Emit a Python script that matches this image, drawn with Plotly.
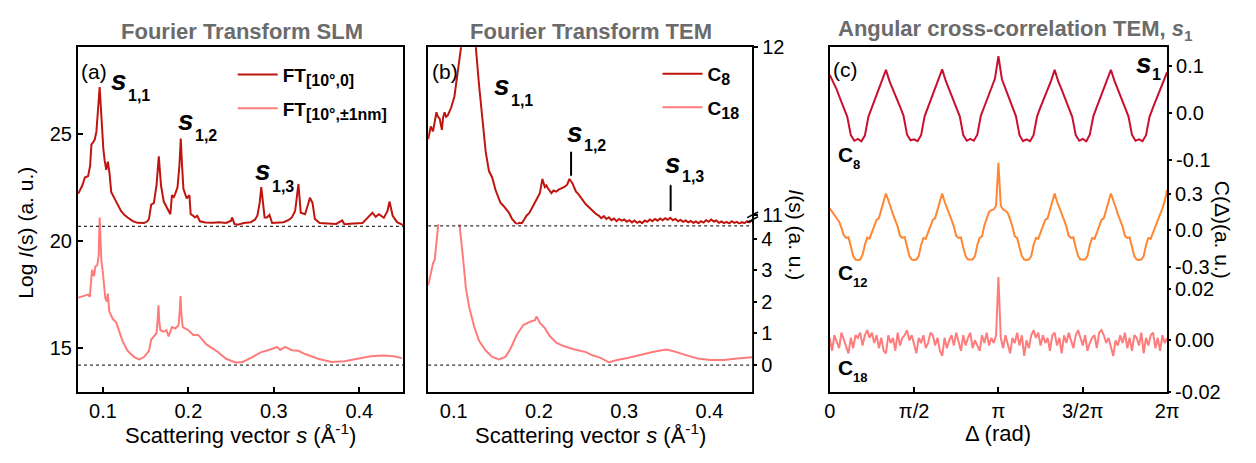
import plotly.graph_objects as go

W, H = 1256, 463

# ---------------- data: panel (a) Fourier Transform SLM ----------------
s_a_top = [0.0712, 0.0760, 0.0789, 0.0827, 0.0850, 0.0866, 0.0885, 0.0904, 0.0924, 0.0945,
           0.0962, 0.0975, 0.0988, 0.1005, 0.1020, 0.1039, 0.1058, 0.1077, 0.1097, 0.1125,
           0.1155, 0.1212, 0.1250, 0.1289, 0.1350, 0.1404, 0.1481, 0.1520, 0.1539, 0.1565,
           0.1596, 0.1627, 0.1654, 0.1668, 0.1680, 0.1712, 0.1750, 0.1789, 0.1808, 0.1830,
           0.1847, 0.1873, 0.1895, 0.1911, 0.1925, 0.1942, 0.1980, 0.2012, 0.2027, 0.2050,
           0.2077, 0.2104, 0.2135, 0.2200, 0.2288, 0.2360, 0.2442, 0.2500, 0.2511, 0.2539,
           0.2577, 0.2650, 0.2730, 0.2780, 0.2807, 0.2835, 0.2853, 0.2870, 0.2892, 0.2920,
           0.2949, 0.2980, 0.3050, 0.3115, 0.3180, 0.3211, 0.3249, 0.3288, 0.3315, 0.3365,
           0.3400, 0.3422, 0.3453, 0.3480, 0.3537, 0.3650, 0.3730, 0.3800, 0.3826, 0.3930,
           0.4038, 0.4096, 0.4153, 0.4192, 0.4230, 0.4287, 0.4330, 0.4353, 0.4391, 0.4442,
           0.4491, 0.4514]
logI_a_top = [22.21, 22.60, 22.96, 23.03, 23.50, 24.51, 24.60, 24.73, 25.10, 26.20,
              27.18, 26.30, 25.10, 24.30, 23.77, 23.32, 23.70, 23.18, 22.29, 22.05,
              21.84, 21.40, 21.22, 21.10, 20.93, 20.85, 20.84, 20.92, 21.03, 21.70,
              21.77, 22.59, 23.95, 23.20, 22.59, 21.84, 21.55, 21.25, 22.14, 22.05,
              22.21, 22.51, 23.50, 24.78, 23.60, 22.44, 21.99, 22.14, 21.25, 21.20,
              21.10, 21.18, 20.92, 20.86, 20.85, 20.88, 20.84, 20.95, 21.10, 20.80,
              20.76, 20.84, 20.88, 21.00, 21.18, 21.80, 22.51, 21.80, 21.10, 21.10,
              21.22, 20.84, 20.86, 20.88, 21.00, 21.10, 21.40, 22.66, 21.32, 21.25,
              21.70, 22.02, 21.77, 21.03, 20.84, 20.80, 20.80, 20.96, 20.78, 20.82,
              20.84, 21.08, 21.32, 21.13, 21.25, 21.08, 21.40, 21.84, 21.18, 20.88,
              20.76, 20.74]

s_a_low = [0.0712, 0.0780, 0.0827, 0.0847, 0.0873, 0.0896, 0.0912, 0.0935, 0.0950, 0.0962,
           0.0970, 0.0982, 0.1000, 0.1028, 0.1047, 0.1058, 0.1074, 0.1116, 0.1155, 0.1190,
           0.1231, 0.1289, 0.1366, 0.1423, 0.1481, 0.1539, 0.1565, 0.1596, 0.1627, 0.1640,
           0.1650, 0.1660, 0.1673, 0.1712, 0.1743, 0.1769, 0.1808, 0.1847, 0.1885, 0.1900,
           0.1908, 0.1918, 0.1934, 0.2000, 0.2058, 0.2115, 0.2211, 0.2327, 0.2442, 0.2557,
           0.2634, 0.2750, 0.2845, 0.2942, 0.3038, 0.3076, 0.3134, 0.3211, 0.3288, 0.3365,
           0.3519, 0.3672, 0.3826, 0.3980, 0.4134, 0.4287, 0.4403, 0.4499]
logI_a_low = [17.36, 17.45, 17.50, 17.40, 18.66, 18.36, 18.81, 18.88, 19.32, 21.10,
              20.30, 19.10, 18.51, 17.33, 17.18, 17.55, 16.73, 16.36, 16.21, 15.80,
              15.32, 14.88, 14.59, 14.48, 14.59, 14.88, 15.40, 15.55, 15.70, 16.30,
              17.00, 16.20, 15.84, 15.77, 15.84, 15.55, 15.99, 15.92, 16.07, 16.80,
              17.44, 16.60, 15.99, 15.84, 15.62, 15.62, 15.18, 14.88, 14.51, 14.33,
              14.36, 14.59, 14.81, 14.92, 15.06, 14.92, 15.06, 14.91, 14.88, 14.73,
              14.51, 14.36, 14.39, 14.51, 14.63, 14.66, 14.63, 14.54]

base_a = [20.68, 14.21]   # dotted baselines in (a)

# ---------------- data: panel (b) Fourier Transform TEM ----------------
s_b_c8 = [0.0700, 0.0731, 0.0757, 0.0780, 0.0797, 0.0815, 0.0835, 0.0861, 0.0875, 0.0892,
          0.0910, 0.0930, 0.0970, 0.1008, 0.1046, 0.1086, 0.1120, 0.1180, 0.1230, 0.1259,
          0.1297, 0.1335, 0.1375, 0.1413, 0.1451, 0.1490, 0.1520, 0.1548, 0.1590, 0.1624,
          0.1650, 0.1682, 0.1710, 0.1740, 0.1770, 0.1798, 0.1830, 0.1855, 0.1885, 0.1913,
          0.1940, 0.1971, 0.2010, 0.2040, 0.2068, 0.2085, 0.2106, 0.2125, 0.2145, 0.2170,
          0.2202, 0.2230, 0.2260, 0.2299, 0.2330, 0.2357, 0.2375, 0.2395, 0.2415, 0.2434,
          0.2460, 0.2491, 0.2520, 0.2549, 0.2580, 0.2607, 0.2635, 0.2665, 0.2700, 0.2730,
          0.2760, 0.2790, 0.2820, 0.2850, 0.2880, 0.2910, 0.2940, 0.2970, 0.3000, 0.3030,
          0.3060, 0.3090, 0.3120, 0.3150, 0.3180, 0.3210, 0.3240, 0.3270, 0.3300, 0.3330,
          0.3360, 0.3390, 0.3420, 0.3450, 0.3480, 0.3510, 0.3540, 0.3570, 0.3600, 0.3630,
          0.3660, 0.3690, 0.3720, 0.3750, 0.3780, 0.3810, 0.3840, 0.3870, 0.3900, 0.3930,
          0.3960, 0.3990, 0.4020, 0.4050, 0.4080, 0.4110, 0.4140, 0.4170, 0.4200, 0.4230,
          0.4260, 0.4290, 0.4320, 0.4350, 0.4380, 0.4410, 0.4440, 0.4470, 0.4500]
I_b_c8 = [11.451, 11.527, 11.498, 11.560, 11.612, 11.585, 11.574, 11.507, 11.580, 11.612,
          11.585, 11.593, 11.640, 11.706, 11.848, 12.000, 12.400, 12.500, 12.300, 12.000,
          11.773, 11.584, 11.375, 11.261, 11.223, 11.148, 11.110, 11.072, 11.050, 11.024,
          11.010, 10.977, 10.960, 10.943, 10.952, 10.949, 10.975, 10.996, 11.010, 11.034,
          11.060, 11.091, 11.129, 11.214, 11.166, 11.175, 11.157, 11.140, 11.129, 11.145,
          11.138, 11.150, 11.157, 11.166, 11.180, 11.214, 11.200, 11.186, 11.160, 11.138,
          11.125, 11.101, 11.085, 11.063, 11.048, 11.034, 11.020, 11.006, 10.995, 10.980,
          10.992, 10.975, 10.985, 10.968, 10.978, 10.962, 10.975, 10.965, 10.972, 10.958,
          10.968, 10.955, 10.966, 10.952, 10.960, 10.950, 10.966, 10.958, 10.972, 10.962,
          10.975, 10.965, 10.978, 10.968, 10.980, 10.970, 10.982, 10.968, 10.976, 10.962,
          10.970, 10.958, 10.966, 10.955, 10.963, 10.952, 10.960, 10.950, 10.962, 10.954,
          10.968, 10.958, 10.972, 10.960, 10.966, 10.952, 10.960, 10.950, 10.958, 10.948,
          10.962, 10.952, 10.958, 10.948, 10.956, 10.950, 10.962, 10.955, 10.968]

s_b_c18 = [0.0700, 0.0739, 0.0757, 0.0777, 0.0797, 0.0815, 0.0880, 0.0950, 0.1030, 0.1066,
           0.1104, 0.1143, 0.1182, 0.1239, 0.1297, 0.1375, 0.1451, 0.1528, 0.1606, 0.1664,
           0.1740, 0.1817, 0.1895, 0.1953, 0.1971, 0.2010, 0.2068, 0.2126, 0.2202, 0.2280,
           0.2395, 0.2473, 0.2549, 0.2627, 0.2722, 0.2820, 0.2916, 0.3051, 0.3205, 0.3358,
           0.3494, 0.3590, 0.3705, 0.3860, 0.4014, 0.4168, 0.4322, 0.4476, 0.4500]
I_b_c18 = [2.52, 3.02, 3.22, 3.33, 4.03, 4.48, 6.00, 8.00, 6.50, 4.48,
           3.52, 2.42, 1.82, 1.22, 0.77, 0.46, 0.26, 0.18, 0.26, 0.51,
           0.96, 1.27, 1.37, 1.42, 1.54, 1.34, 1.17, 0.92, 0.71, 0.61,
           0.51, 0.46, 0.41, 0.31, 0.23, 0.09, 0.16, 0.23, 0.33, 0.43,
           0.49, 0.43, 0.33, 0.21, 0.16, 0.16, 0.21, 0.25, 0.25]

base_b_c8 = 10.934
base_b_c18 = 0.0
peak_s = [0.2376, 0.3544]          # s_{1,2}, s_{1,3} markers
peak_top = [11.375, 11.176]
peak_bot = [11.233, 11.023]

# ---------------- data: panel (c) angular cross-correlation ----------------
c8_vals = [0.080, 0.066, 0.049, 0.029, 0.011, -0.009, -0.048, -0.060, -0.056, -0.061, -0.049, -0.009, 0.011, 0.030, 0.050, 0.068,
           0.091, 0.067, 0.050, 0.031, 0.013, -0.007, -0.047, -0.059, -0.057, -0.061, -0.048, -0.008, 0.012, 0.031, 0.051, 0.069,
           0.092, 0.068, 0.049, 0.030, 0.012, -0.008, -0.048, -0.060, -0.056, -0.060, -0.047, -0.007, 0.013, 0.032, 0.052, 0.072,
           0.120,
           0.071, 0.051, 0.031, 0.012, -0.008, -0.048, -0.061, -0.057, -0.061, -0.048, -0.008, 0.012, 0.030, 0.050, 0.068,
           0.091,
           0.067, 0.049, 0.030, 0.012, -0.009, -0.048, -0.060, -0.056, -0.061, -0.047, -0.008, 0.012, 0.031, 0.050, 0.068,
           0.091,
           0.068, 0.050, 0.030, 0.011, -0.008, -0.047, -0.060, -0.057, -0.061, -0.048, -0.009, 0.011, 0.030, 0.049, 0.066,
           0.086]
c12_vals = [0.18, 0.15, 0.12, 0.10, 0.07, 0.02, -0.04, -0.062, -0.056, -0.13, -0.21, -0.238, -0.242, -0.238, -0.20, -0.12,
            -0.060, -0.068, -0.02, 0.04, 0.085, 0.10, 0.16, 0.235,
            0.30,
            0.235, 0.19, 0.13, 0.085, 0.03, -0.045, -0.062, -0.055, -0.14, -0.21, -0.238, -0.242, -0.238, -0.21, -0.12,
            -0.062, -0.068, -0.02, 0.04, 0.085, 0.10, 0.16, 0.235,
            0.30,
            0.235, 0.19, 0.13, 0.085, 0.03, -0.045, -0.062, -0.058, -0.14, -0.21, -0.238, -0.240, -0.238, -0.21, -0.12,
            -0.062, -0.05, 0.04, 0.09, 0.15, 0.165, 0.17, 0.20,
            0.55,
            0.20, 0.17, 0.16, 0.14, 0.09, 0.03, -0.05, -0.062, -0.14, -0.21, -0.238, -0.242, -0.238, -0.21, -0.12,
            -0.062, -0.068, -0.02, 0.04, 0.085, 0.10, 0.16, 0.235,
            0.30,
            0.235, 0.19, 0.13, 0.085, 0.03, -0.045, -0.062, -0.056, -0.14, -0.21, -0.238, -0.240, -0.238, -0.21, -0.12,
            -0.062, -0.068, -0.02, 0.04, 0.085, 0.10, 0.16, 0.235,
            0.30,
            0.235, 0.19, 0.13, 0.085, 0.03, -0.045, -0.062, -0.058, -0.14, -0.21, -0.238, -0.242, -0.238, -0.21, -0.12,
            -0.062, -0.068, -0.02, 0.04, 0.085, 0.12, 0.18, 0.24,
            0.33]
c18_vals = [0.001, -0.004, 0.002, -0.001, -0.003, 0.003, 0.000, -0.002, -0.005, 0.001, -0.003, 0.002,
            0.001, 0.003, -0.002, 0.002, 0.004, 0.001, 0.003, -0.001, 0.002, -0.003, 0.001, -0.004,
            -0.005, 0.002, -0.001, 0.001, -0.004, 0.003, -0.002, 0.001, 0.002, 0.004, 0.000, 0.002,
            -0.002, -0.005, 0.001, -0.001, 0.002, -0.003, -0.001, 0.003, 0.002, -0.002, 0.001, -0.004,
            -0.006, 0.001, -0.003, 0.000, 0.002, -0.002, 0.003, -0.001, -0.004, 0.002, -0.002, 0.001,
            0.003, -0.003, 0.000, -0.002, -0.004, 0.002, -0.001, 0.003, -0.002, 0.001, -0.001, 0.002,
            0.0246,
            0.001, -0.003, 0.002, -0.002, -0.005, 0.001, -0.001, 0.003, -0.002, 0.002, -0.006, 0.000,
            -0.003, 0.002, 0.004, 0.001, 0.003, -0.002, 0.002, -0.001, 0.001, -0.004, 0.002, 0.003,
            -0.002, 0.001, -0.005, 0.002, -0.001, 0.003, 0.000, -0.003, 0.002, 0.004, 0.001, -0.002,
            0.002, -0.004, -0.001, 0.001, 0.002, -0.003, 0.003, 0.004, 0.002, -0.001, 0.001, -0.003,
            -0.006, 0.000, -0.002, 0.002, -0.001, 0.003, -0.003, 0.001, -0.004, 0.002, 0.001, -0.002,
            0.003, -0.005, 0.001, -0.002, 0.002, 0.003, -0.003, 0.001, -0.004, 0.002, -0.001, 0.001]
# angle grid in units of pi (0 .. 2)
delta_c8 = [2 * i / (len(c8_vals) - 1) for i in range(len(c8_vals))]
delta_c12 = [2 * i / (len(c12_vals) - 1) for i in range(len(c12_vals))]
delta_c18 = [2 * i / (len(c18_vals) - 1) for i in range(len(c18_vals))]
delta_ticks = [0, 0.5, 1, 1.5, 2]
delta_labels = ["0", "π/2", "π", "3/2π", "2π"]

# ---------------- styling ----------------
RED = "#c0150e"
PINK = "#ff7c7c"
CRIMSON = "#c8102e"
ORANGE = "#ff8633"
GRAY = "#6b6b6b"
FONT = "Arial, Liberation Sans, sans-serif"


def px(x):
    return x / W


def py(y):
    return 1 - y / H


TOP, BOT = 38, 400
fig = go.Figure()

sub16 = "<span style='font-size:16px'>%s</span>"
fig.add_trace(go.Scatter(x=s_a_top, y=logI_a_top, xaxis="x", yaxis="y", mode="lines",
                         line=dict(color=RED, width=2), legend="legend", legendgroup="a1",
                         name="<b>FT<sub>" + sub16 % "[10°,0]" + "</sub></b>"))
fig.add_trace(go.Scatter(x=s_a_low, y=logI_a_low, xaxis="x", yaxis="y", mode="lines",
                         line=dict(color=PINK, width=2), legend="legend", legendgroup="a2",
                         name="<b>FT<sub>" + sub16 % "[10°,±1nm]" + "</sub></b>"))
fig.add_trace(go.Scatter(x=s_b_c8, y=I_b_c8, xaxis="x2", yaxis="y2", mode="lines",
                         line=dict(color=RED, width=2), legend="legend2", legendgroup="b1",
                         name="<b>C<sub>" + sub16 % "8" + "</sub></b>"))
fig.add_trace(go.Scatter(x=s_b_c18, y=I_b_c18, xaxis="x2", yaxis="y3", mode="lines",
                         line=dict(color=PINK, width=2), legend="legend2", legendgroup="b2",
                         name="<b>C<sub>" + sub16 % "18" + "</sub></b>"))
fig.add_trace(go.Scatter(x=delta_c8, y=c8_vals, xaxis="x3", yaxis="y4", mode="lines",
                         line=dict(color=CRIMSON, width=2), showlegend=False))
fig.add_trace(go.Scatter(x=delta_c12, y=c12_vals, xaxis="x3", yaxis="y5", mode="lines",
                         line=dict(color=ORANGE, width=2), showlegend=False))
fig.add_trace(go.Scatter(x=delta_c18, y=c18_vals, xaxis="x3", yaxis="y6", mode="lines",
                         line=dict(color=PINK, width=2), showlegend=False))

TICKF = dict(size=20, family=FONT, color="black")
axbase = dict(showline=True, linecolor="black", linewidth=2, showgrid=False, zeroline=False,
              tickcolor="black", tickwidth=1.5, tickfont=TICKF)
ydom = [py(BOT), py(TOP)]

fig.update_layout(
    width=W, height=H, margin=dict(l=0, r=0, t=0, b=0),
    paper_bgcolor="white", plot_bgcolor="white",
    font=dict(family=FONT, size=20, color="black"),
    xaxis=dict(axbase, domain=[px(73), px(403)], anchor="y", range=[0.0708, 0.4514],
               tickvals=[0.1, 0.2, 0.3, 0.4], ticks="inside", ticklen=5, mirror=True),
    yaxis=dict(axbase, domain=ydom, anchor="x", range=[12.96, 29.04],
               tickvals=[15, 20, 25], ticks="inside", ticklen=5, mirror=True),
    xaxis2=dict(axbase, domain=[px(428.3), px(757)], anchor="y2", range=[0.07, 0.45],
                tickvals=[0.1, 0.2, 0.3, 0.4], ticks="inside", ticklen=5, mirror=True),
    yaxis2=dict(axbase, domain=ydom, anchor="x2", side="right", range=[9.943, 12.0],
                tickvals=[11, 12], ticks="outside", ticklen=4, mirror=True),
    yaxis3=dict(axbase, domain=[py(BOT), py(224)], anchor="x2", side="right", range=[-0.85, 4.45],
                tickvals=[0, 1, 2, 3, 4], ticks="outside", ticklen=4, showline=False),
    xaxis3=dict(axbase, domain=[px(835.7), px(1178)], anchor="y4", range=[0, 2],
                tickvals=delta_ticks, ticktext=delta_labels, ticks="inside", ticklen=5, mirror=True),
    yaxis4=dict(axbase, domain=ydom, anchor="x3", side="right", range=[-0.595, 0.1393],
                tickvals=[-0.1, 0, 0.1], ticktext=["-0.1", "0.0", "0.1"], ticks="outside",
                ticklen=3, mirror=True),
    yaxis5=dict(axbase, anchor="x3", overlaying="y4", side="right", range=[-1.318, 1.493],
                tickvals=[-0.3, 0, 0.3], ticktext=["-0.3", "0.0", "0.3"], ticks="outside",
                ticklen=3, showline=False),
    yaxis6=dict(axbase, anchor="x3", overlaying="y4", side="right", range=[-0.02, 0.1137],
                tickvals=[-0.02, 0, 0.02], ticktext=["-0.02", "0.00", "0.02"], ticks="outside",
                ticklen=3, showline=False),
    legend=dict(x=px(230), y=py(47), xanchor="left", yanchor="top", bgcolor="rgba(0,0,0,0)",
                font=dict(size=19, family=FONT), tracegroupgap=6, itemwidth=40),
    legend2=dict(x=px(661), y=py(46), xanchor="left", yanchor="top", bgcolor="rgba(0,0,0,0)",
                 font=dict(size=19, family=FONT), tracegroupgap=6, itemwidth=40),
)

shapes = []
dot = dict(color="#333333", width=1.3, dash="dot")
for b in base_a:
    shapes.append(dict(type="line", xref="x domain", yref="y", x0=0, x1=1, y0=b, y1=b, line=dot))
shapes.append(dict(type="line", xref="x2 domain", yref="y2", x0=0, x1=1, y0=base_b_c8, y1=base_b_c8, line=dot))
shapes.append(dict(type="line", xref="x2 domain", yref="y3", x0=0, x1=1, y0=base_b_c18, y1=base_b_c18, line=dot))
for s, t, b in zip(peak_s, peak_top, peak_bot):
    shapes.append(dict(type="line", xref="x2", yref="y2", x0=s, x1=s, y0=b, y1=t,
                       line=dict(color="black", width=2)))
    shapes.append(dict(type="line", xref="x2", yref="y2", x0=s - 0.0004, x1=s + 0.0004, y0=t, y1=t,
                       line=dict(color="black", width=1.5)))
# axis break mark on right axis of (b)
for yy in (214, 219):
    shapes.append(dict(type="line", xref="paper", yref="paper", x0=px(752), x1=px(763),
                       y0=py(yy + 3), y1=py(yy - 3), line=dict(color="black", width=1.5)))
fig.update_layout(shapes=shapes)

ann = []


def txt(x, ymid, text, size, bold=False, italic=False, color="black", anchor="left"):
    """Place text with its box centred vertically on ymid (pixels from top)."""
    t = text
    if italic:
        t = "<i>" + t + "</i>"
    if bold:
        t = "<b>" + t + "</b>"
    ann.append(dict(x=px(x), y=py(ymid), xref="paper", yref="paper",
                    text=t, showarrow=False, xanchor=anchor, yanchor="middle",
                    font=dict(size=size, family=FONT, color=color)))


# titles
txt(239, 21, "Fourier Transform SLM", 22, bold=True, color=GRAY, anchor="center")
txt(593, 21, "Fourier Transform TEM", 22, bold=True, color=GRAY, anchor="center")
txt(1024, 20, "Angular cross-correlation TEM, <i>s</i><sub>1</sub>", 22, bold=True, color=GRAY, anchor="center")
# axis titles
txt(237.5, 444, "Scattering vector <i>s</i> (Å<sup>-1</sup>)", 22, anchor="center")
txt(593, 444, "Scattering vector <i>s</i> (Å<sup>-1</sup>)", 22, anchor="center")
txt(1006.7, 444, "Δ (rad)", 22, anchor="center")
for (x, y, text, ang) in [(20, 233, "Log <i>I</i>(s) (a. u.)", -90),
                          (802, 235, "<i>I</i>(s) (a. u.)", 90),
                          (1235, 230, "C(Δ)(a. u.)", 90)]:
    ann.append(dict(x=px(x), y=py(y), xref="paper", yref="paper", text=text, showarrow=False,
                    textangle=ang, xanchor="center", yanchor="middle",
                    font=dict(size=21, family=FONT, color="black")))
# panel letters
txt(74, 63, "(a)", 21)
txt(430, 63, "(b)", 21)
txt(837, 61, "(c)", 21)
# s labels: (x of s, baseline of s, x of subscript, baseline of subscript)
for (xs, bs, xsub, bsub, sub) in [(105, 83, 122, 95, "1,1"), (172, 125, 190, 137, "1,2"),
                                  (251, 177, 268, 190, "1,3"), (493, 88, 510, 100, "1,1"),
                                  (567, 138, 584, 147, "1,2"), (667, 170, 684, 180, "1,3"),
                                  (1144, 65, 1161, 73, "1")]:
    txt(xs, bs - 10, "s", 28, bold=True, italic=True)
    txt(xsub, bsub - 6, sub, 16, bold=True)
# C labels in (c)
for (bs, sub) in [(158, "8"), (282, "12"), (382, "18")]:
    txt(842, bs - 7.5, "C", 21, bold=True)
    txt(857, bs + 8 - 4.7, sub, 13, bold=True)

fig.update_layout(annotations=ann)
fig.write_html("out.html")
